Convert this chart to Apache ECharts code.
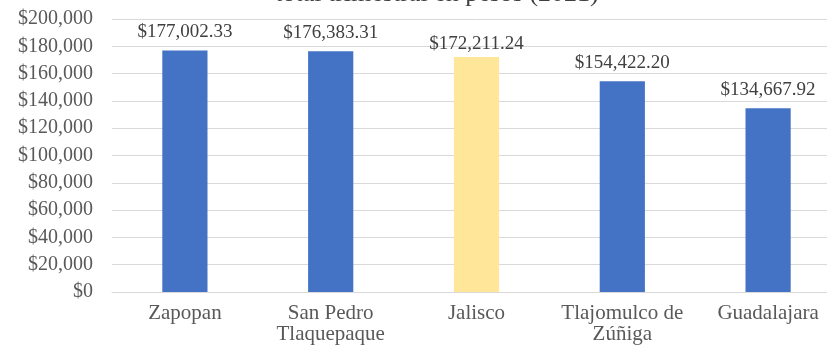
<!DOCTYPE html>
<html>
<head>
<meta charset="utf-8">
<script src="https://cdn.jsdelivr.net/npm/echarts@6/dist/echarts.min.js"></script>
<style>
  html, body { margin: 0; padding: 0; background: #ffffff; overflow: hidden; }
  #frame { width: 827px; height: 345px; overflow: hidden; position: relative; }
  /* the plot runs slightly past the right edge of the frame */
  #chart { width: 841px; height: 345px; position: absolute; left: 0; top: 0; }
</style>
</head>
<body>
<div id="frame"><div id="chart"></div></div>
<script>
// Municipios y total estatal
const categories = ['Zapopan', 'San Pedro\nTlaquepaque', 'Jalisco', 'Tlajomulco de\nZúñiga', 'Guadalajara'];
const values = [177002.33, 176383.31, 172211.24, 154422.20, 134667.92];
const barColors = ['#4472C4', '#4472C4', '#FFE699', '#4472C4', '#4472C4'];
const yTicks = { min: 0, max: 200000, interval: 20000 };
const titleText = 'Ingreso corriente promedio\ntotal trimestral en pesos (2021)';

const serif = '"Liberation Serif", "DejaVu Serif", serif';

function money(v, decimals) {
  return '$' + v.toLocaleString('en-US', { minimumFractionDigits: decimals, maximumFractionDigits: decimals });
}

const chart = echarts.init(document.getElementById('chart'), null, { renderer: 'canvas' });
chart.setOption({
  backgroundColor: '#ffffff',
  animation: false,
  graphic: [{
    type: 'text',
    x: 437,
    y: 9,
    silent: true,
    style: {
      text: titleText,
      textAlign: 'center',
      textVerticalAlign: 'bottom',
      fontFamily: serif,
      fontSize: 26,
      lineHeight: 30,
      fill: '#404040'
    }
  }],
  grid: { left: 112, right: 0, top: 19, bottom: 48, containLabel: false },
  xAxis: {
    type: 'category',
    data: categories,
    axisLine: { lineStyle: { color: '#d9d9d9', width: 1 } },
    axisTick: { show: false },
    axisLabel: { fontFamily: serif, fontSize: 21, color: '#595959', margin: 11, lineHeight: 21, interval: 0 }
  },
  yAxis: {
    type: 'value',
    min: yTicks.min,
    max: yTicks.max,
    interval: yTicks.interval,
    axisLine: { show: false },
    axisTick: { show: false },
    splitLine: { lineStyle: { color: '#d9d9d9', width: 1 } },
    axisLabel: {
      fontFamily: serif, fontSize: 20, color: '#595959', margin: 19,
      formatter: v => money(v, 0)
    }
  },
  series: [{
    type: 'bar',
    data: values.map((v, i) => ({
      value: v,
      itemStyle: { color: barColors[i] },
      label: { distance: i === 2 ? 3 : 9 }
    })),
    barWidth: '31%',
    label: {
      show: true,
      position: 'top',
      fontFamily: serif,
      fontSize: 19,
      color: '#404040',
      formatter: p => money(p.value, 2)
    }
  }]
});
</script>
</body>
</html>
